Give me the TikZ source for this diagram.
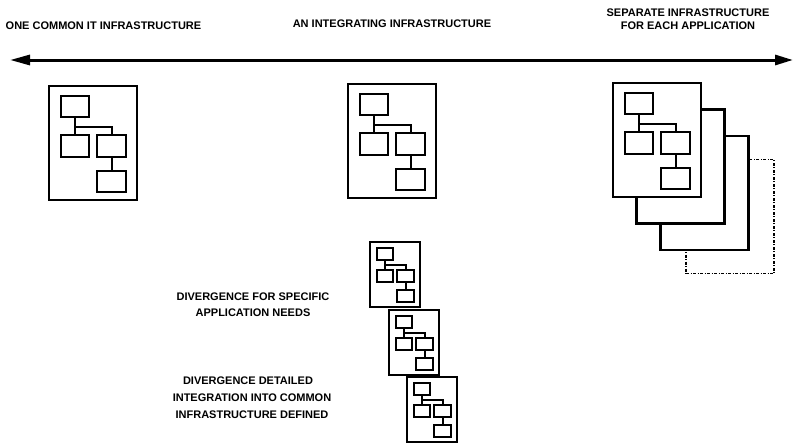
\documentclass[tikz,border=0pt]{standalone}
\usepackage{fontspec}
\setmainfont{Liberation Sans}
\usetikzlibrary{arrows.meta}
\tikzset{
  lbl/.style={font=\bfseries\fontsize{11}{13}\selectfont, inner sep=0pt, align=center},
  frame/.style={draw, fill=white, line width=2.2pt, inner sep=0pt, outer sep=0pt, minimum width=88pt, minimum height=114pt},
  ibox/.style={draw, line width=2pt, inner sep=0pt, outer sep=0pt},
  orglink/.style={line width=2pt},
  pics/org/.style={code={
    \node[frame] (-frame) at (44,-57) {};
    \node[ibox, minimum width=28pt, minimum height=21pt] (-top) at (26,-20.5) {};
    \node[ibox, minimum width=28pt, minimum height=22pt] (-left) at (26,-60) {};
    \node[ibox, minimum width=29pt, minimum height=22pt] (-right) at (62.5,-60) {};
    \node[ibox, minimum width=29pt, minimum height=21pt] (-bottom) at (62.5,-95.5) {};
    \coordinate (-j) at (26,-41);
    \draw[orglink] (-top.south) -- (-left.north);
    \draw[orglink] (-j) -| (-right.north);
    \draw[orglink] (-right.south) -- (-bottom.north);
  }}
}
\begin{document}
\begin{tikzpicture}[x=1pt,y=1pt]
\useasboundingbox[fill=white] (0,0) rectangle (795,-442);
% axis arrow
\coordinate (aL) at (10,-60);
\coordinate (aR) at (793,-60);
\draw[line width=3pt, {Triangle[length=20pt,width=10pt]}-{Triangle[length=18pt,width=10pt]}] (aL) -- (aR);
% headings
\node[lbl] (t1) at (103.5,-26) {ONE COMMON IT INFRASTRUCTURE};
\node[lbl] (t2) at (392,-24) {AN INTEGRATING INFRASTRUCTURE};
\node[lbl] (t3) at (688,-19.5) {SEPARATE INFRASTRUCTURE\\FOR EACH APPLICATION};
% large charts
\pic (c1) at (49,-86) {org};
\pic (c2) at (348,-84) {org};
% stacked charts
\node[frame, dash pattern=on 3pt off 1.5pt on 1pt off 1.5pt, line width=1.8pt] (s4) at (730,-216.5) {};
\node[frame] (s3) at (704.5,-193) {};
\node[frame] (s2) at (680.5,-166.5) {};
\pic (c3) at (613,-83) {org};
% small charts
\pic[scale=0.57, transform shape] (m1) at (370,-242) {org};
\pic[scale=0.57, transform shape] (m2) at (389,-310) {org};
\pic[scale=0.57, transform shape] (m3) at (407,-377) {org};
% lower labels
\node[lbl, font=\bfseries\fontsize{11}{16}\selectfont] (d1) at (253,-305) {DIVERGENCE FOR SPECIFIC\\APPLICATION NEEDS};
\node[lbl] (d2) at (248,-381) {DIVERGENCE DETAILED};
\node[lbl, font=\bfseries\fontsize{11}{17}\selectfont] (d3) at (252,-406.5) {INTEGRATION INTO COMMON\\INFRASTRUCTURE DEFINED};
\end{tikzpicture}
\end{document}
